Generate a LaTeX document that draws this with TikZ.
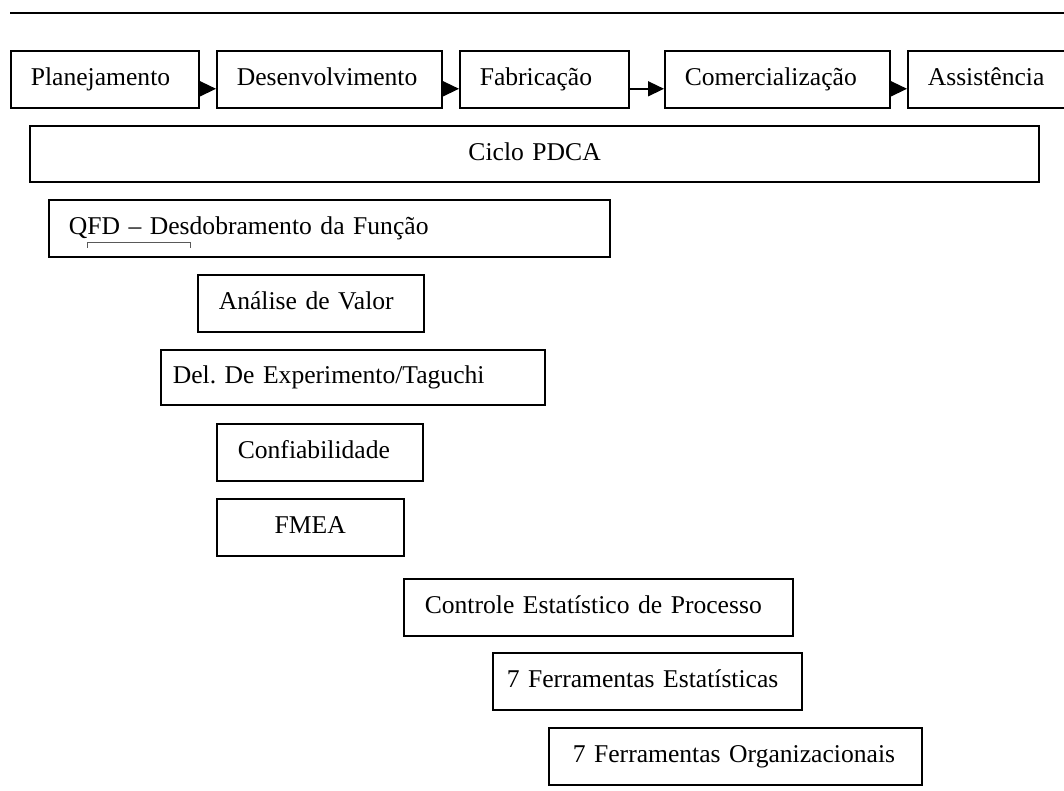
\documentclass[tikz,border=0pt]{standalone}
\usepackage{fontspec}
\setmainfont{Liberation Serif}
\usetikzlibrary{arrows.meta}

\tikzset{
  box/.style={draw=black, line width=1.6pt, fill=white, anchor=north west,
    inner ysep=0pt, align=left, text height=18.4pt, text depth=5.6pt,
    font=\fontsize{25.6}{30}\selectfont\frenchspacing},
  wide/.style={box, line width=2.2pt, align=center},
  flow/.style={line width=1.5pt, -{Triangle[length=16pt,width=15pt]}},
  rule/.style={line width=2.4pt},
  brace/.style={draw=black!65, line width=1pt}
}

\begin{document}
\begin{tikzpicture}[x=1pt,y=-1pt]
  \useasboundingbox (0,0) rectangle (1064,791);
  \clip (0,0) rectangle (1064,791);

  % heading rule
  \coordinate (ruleL) at (10,13);
  \coordinate (ruleR) at (1064,13);
  \draw[rule] (ruleL) -- (ruleR);

  % product life cycle stages
  \node[box, inner xsep=20pt, text width=148pt, minimum height=57pt] (plan)   at (10,50)  {Planejamento};
  \node[box, inner xsep=20pt, text width=185pt, minimum height=57pt] (desen)  at (216,50) {Desenvolvimento};
  \node[box, inner xsep=20pt, text width=129pt, minimum height=57pt] (fab)    at (459,50) {Fabricação};
  \node[box, inner xsep=20pt, text width=185pt, minimum height=57pt] (com)    at (664,50) {Comercialização};
  \node[box, inner xsep=20pt, text width=130pt, minimum height=57pt] (assist) at (907,50) {Assistência};

  \draw[flow] ([yshift=-9.5pt]plan.east)  -- ([yshift=-9.5pt]desen.west);
  \draw[flow] ([yshift=-9.5pt]desen.east) -- ([yshift=-9.5pt]fab.west);
  \draw[flow] ([yshift=-9.5pt]fab.east)   -- ([yshift=-9.5pt]com.west);
  \draw[flow] ([yshift=-9.5pt]com.east)   -- ([yshift=-9.5pt]assist.west);

  % quality tools
  \node[wide, inner xsep=0pt, text width=1009pt, minimum height=56pt] (pdca) at (29,125) {Ciclo PDCA};
  \node[box, inner xsep=20pt, text width=521pt, minimum height=57pt] (qfd)  at (48,199)  {QFD -- Desdobramento da Função};
  \node[box, inner xsep=21pt, text width=184pt, minimum height=57pt] (av)   at (197,274) {Análise de Valor};
  \node[box, inner xsep=12pt, text width=360pt, minimum height=55pt] (doe)  at (160,349) {Del. De Experimento/Taguchi};
  \node[box, inner xsep=21pt, text width=164pt, minimum height=57pt] (conf) at (216,423) {Confiabilidade};
  \node[box, inner xsep=0pt, align=center, text width=187pt, minimum height=57pt] (fmea) at (216,498) {FMEA};
  \node[box, inner xsep=21pt, text width=347pt, minimum height=57pt] (cep)  at (403,578) {Controle Estatístico de Processo};
  \node[box, inner xsep=14pt, text width=281pt, minimum height=57pt] (fe7)  at (492,652) {7 Ferramentas Estatísticas};
  \node[box, inner xsep=24pt, text width=325pt, minimum height=57pt] (fo7)  at (548,727) {7 Ferramentas Organizacionais};

  % small bracket under the QFD label
  \draw[brace] (87,248) -- (87,243) -- (190,243) -- (190,248);
\end{tikzpicture}
\end{document}
